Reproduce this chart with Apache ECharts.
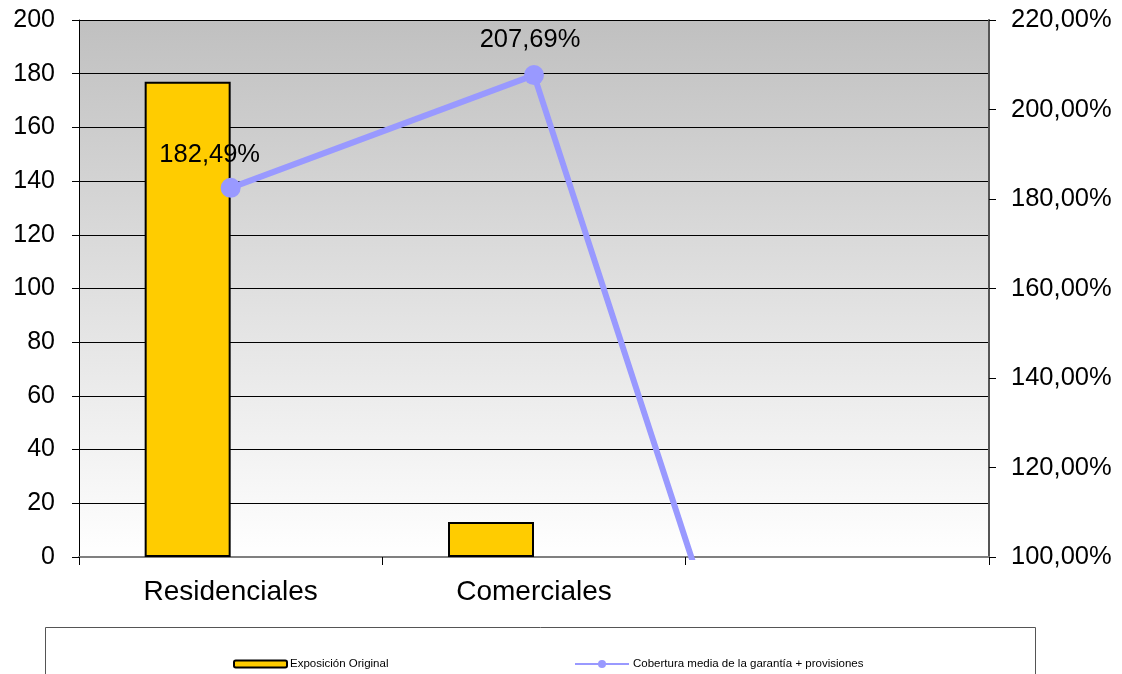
<!DOCTYPE html>
<html><head><meta charset="utf-8">
<script src="https://cdn.jsdelivr.net/npm/echarts@6/dist/echarts.min.js"></script>
<style>html,body{margin:0;padding:0;background:#fff}#c{width:1122px;height:674px}</style>
</head><body><div id="c"></div>
<script>
const categories = ['Residenciales', 'Comerciales', ''];
const exposicion = [177, 13, null];
const cobertura = [182.49, 207.69, 0];
const leftTicks = {min: 0, max: 200, interval: 20};
const rightTicks = {min: 100, max: 220, interval: 20};
const barName = 'Exposición Original';
const lineName = 'Cobertura media de la garantía + provisiones';

const chart = echarts.init(document.getElementById('c'));
const fmtPct = v => v.toFixed(2).replace('.', ',') + '%';
const labelOffsets = [[-21, 6], [-4, 4], [0, 0]];
const lineData = cobertura.map((v, i) => ({
  value: v,
  label: {show: i < 2, offset: labelOffsets[i]}
}));
chart.setOption({
  animation: false,
  textStyle: {fontFamily: 'Liberation Sans, Arial, sans-serif'},
  grid: {left: 79, right: 133, top: 20, bottom: 117, show: true, borderWidth: 0,
    backgroundColor: {type: 'linear', x: 0, y: 0, x2: 0, y2: 1,
      colorStops: [{offset: 0, color: '#c0c0c0'}, {offset: 1, color: '#ffffff'}]}},
  graphic: [{type: 'rect', shape: {x: 45.5, y: 627.5, width: 990, height: 60},
    style: {fill: '#fff', stroke: '#555', lineWidth: 1}, z: -1}],
  legend: [
    {data: [barName], left: 233, top: 658, padding: 0, itemWidth: 53, itemHeight: 7, itemGap: 0,
      textStyle: {fontSize: 11.5, color: '#000', padding: [0, 0, 0, -2]}},
    {data: [lineName], left: 574, top: 658, padding: 0, itemWidth: 54, itemHeight: 10, itemGap: 0,
      textStyle: {fontSize: 11.5, color: '#000', padding: [0, 0, 0, -1]}}
  ],
  xAxis: {type: 'category', data: categories,
    axisLine: {lineStyle: {color: '#808080', width: 2}},
    axisTick: {show: true, interval: 0, length: 8, inside: false, lineStyle: {color: '#000'}},
    axisLabel: {fontSize: 28, color: '#000', margin: 21},
    splitLine: {show: false}},
  yAxis: [
    {type: 'value', min: leftTicks.min, max: leftTicks.max, interval: leftTicks.interval,
      axisLine: {show: true, lineStyle: {color: '#000', width: 1}},
      axisTick: {show: true, length: 7, lineStyle: {color: '#000'}},
      axisLabel: {fontSize: 25, color: '#000', margin: 24},
      splitLine: {show: true, lineStyle: {color: '#000', width: 1}}},
    {type: 'value', position: 'right', min: rightTicks.min, max: rightTicks.max, interval: rightTicks.interval,
      axisLine: {show: true, lineStyle: {color: '#555', width: 2}},
      axisTick: {show: true, length: 7, lineStyle: {color: '#000'}},
      axisLabel: {fontSize: 25.5, color: '#000', margin: 22, formatter: fmtPct},
      splitLine: {show: false}}
  ],
  series: [
    {name: barName, type: 'bar', data: exposicion, barWidth: 86, barGap: '0%',
      itemStyle: {color: '#ffcc00', borderColor: '#000', borderWidth: 2}},
    {name: 'spacer', type: 'bar', data: categories.map(() => null), barWidth: 86},
    {name: lineName, type: 'line', yAxisIndex: 1, data: lineData, clip: true,
      symbol: 'circle', symbolSize: 20,
      lineStyle: {color: '#9999ff', width: 6}, itemStyle: {color: '#9999ff'},
      label: {position: 'top', distance: 16, fontSize: 25.5, color: '#000', formatter: p => fmtPct(p.value)}}
  ]
});
</script></body></html>
